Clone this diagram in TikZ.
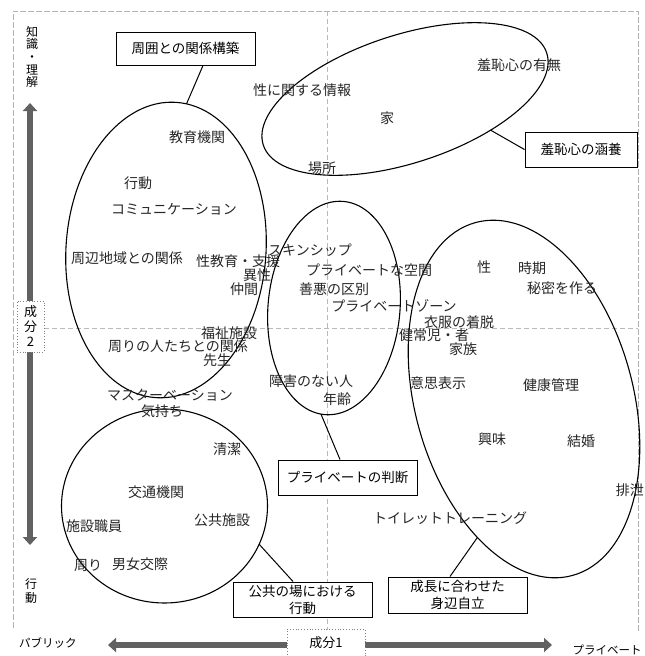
\documentclass[tikz,border=0pt]{standalone}
\usepackage{fontspec}
\setmainfont{Noto Sans CJK JP}
\usetikzlibrary{shapes.geometric,arrows.meta,calc}
\begin{document}
\begin{tikzpicture}[x=1pt,y=-1pt,
  ell/.style={ellipse,draw=black,line width=1.1pt,inner sep=0pt,outer sep=0pt},
  word/.style={font=\fontsize{14}{15}\selectfont,text=black!85,inner sep=0pt},
  lbox/.style={draw=black,line width=1pt,fill=white,font=\fontsize{13.5}{17}\selectfont,align=center,inner sep=0pt},
  conn/.style={line width=1pt},
  framel/.style={gray!60,line width=0.6pt,dash pattern=on 6pt off 2pt},
  axl/.style={gray!55,line width=0.6pt,dash pattern=on 5pt off 3pt},
  bigarrow/.style={line width=6pt,draw=black!62,
     {Triangle[length=8pt,width=14pt]}-{Triangle[length=8pt,width=14pt]}},
  axbox/.style={draw=gray,dotted,line width=0.8pt,fill=white,inner sep=0pt,align=center},
  axtext/.style={font=\fontsize{11.5}{13}\selectfont,inner sep=0pt,align=center}
  ]
\useasboundingbox (0,0) rectangle (645,656);

% frame and axes
\draw[framel] (13,628) -- (13,11) -- (638,11) -- (638,633);
\draw[axl] (327,11) -- (327,630);
\draw[axl] (44,328) -- (638,328);

% axis arrows
\draw[bigarrow] (30,545) -- (30,103);
\draw[bigarrow] (108,645) -- (552,645);
\node[axbox,minimum width=27pt,minimum height=51pt,font=\fontsize{13}{15}\selectfont] (ax2) at (30.5,326.5) {成\\分\\2};
\node[axbox,minimum width=78pt,minimum height=27pt,font=\fontsize{13}{15}\selectfont] (ax1) at (326,643) {成分1};
\node[axtext,font=\fontsize{12}{12.6}\selectfont] (know) at (32,57) {知\\識\\・\\理\\解};
\node[axtext,font=\fontsize{12}{13.5}\selectfont] (act) at (31,591) {行\\動};
\node[axtext] (pub) at (48,643) {パブリック};
\node[axtext] (pri) at (607,650) {プライベート};

% ellipses
\node[ell,minimum width=200pt,minimum height=296pt,rotate=-4] (E1) at (166,250) {};
\node[ell,minimum width=298pt,minimum height=128pt,rotate=18] (E2) at (405,99) {};
\node[ell,minimum width=132pt,minimum height=214pt,rotate=-5] (E3) at (334,308) {};
\node[ell,minimum width=206pt,minimum height=194pt] (E4) at (164.5,506) {};
\node[ell,minimum width=218pt,minimum height=366pt,rotate=15.4] (E5) at (524,399) {};

% words
\node[word] (w1) at (302,90) {性に関する情報};
\node[word] (w2) at (197,137) {教育機関};
\node[word] (w3) at (138,183) {行動};
\node[word] (w4) at (174,209) {コミュニケーション};
\node[word] (w5) at (519,65) {羞恥心の有無};
\node[word] (w6) at (387,118) {家};
\node[word] (w7) at (322,168) {場所};
\node[word] (w8) at (127,258) {周辺地域との関係};
\node[word] (w9) at (238,261) {性教育・支援};
\node[word] (w10) at (257,275) {異性};
\node[word] (w11) at (244,289) {仲間};
\node[word] (w12) at (310,250) {スキンシップ};
\node[word] (w13) at (369,270) {プライベートな空間};
\node[word] (w14) at (334,289) {善悪の区別};
\node[word] (w15) at (394,306) {プライベートゾーン};
\node[word] (w16) at (459,322) {衣服の着脱};
\node[word] (w17) at (434,335) {健常児・者};
\node[word] (w18) at (463,349) {家族};
\node[word] (w19) at (484,267) {性};
\node[word] (w20) at (532,268) {時期};
\node[word] (w21) at (562,288) {秘密を作る};
\node[word] (w22) at (229,333) {福祉施設};
\node[word] (w23) at (178,346) {周りの人たちとの関係};
\node[word] (w24) at (217,360) {先生};
\node[word] (w25) at (311,381) {障害のない人};
\node[word] (w26) at (337,399) {年齢};
\node[word] (w27) at (170,395) {マスターベーション};
\node[word] (w28) at (162,411) {気持ち};
\node[word] (w29) at (438,383) {意思表示};
\node[word] (w30) at (551,385) {健康管理};
\node[word] (w31) at (492,439) {興味};
\node[word] (w32) at (581,441) {結婚};
\node[word,anchor=east] (w33) at (644,490) {排泄};
\node[word] (w34) at (450,518) {トイレットトレーニング};
\node[word] (w35) at (227,449) {清潔};
\node[word] (w36) at (156,492) {交通機関};
\node[word] (w37) at (94,526) {施設職員};
\node[word] (w38) at (222,520) {公共施設};
\node[word] (w39) at (88,566) {周り};
\node[word] (w40) at (140,564) {男女交際};

% label boxes
\node[lbox,minimum width=139pt,minimum height=33pt] (B1) at (185.5,48.5) {周囲との関係構築};
\node[lbox,minimum width=112pt,minimum height=35pt] (B2) at (581,149.5) {羞恥心の涵養};
\node[lbox,minimum width=139pt,minimum height=35pt] (B3) at (347.5,477.5) {プライベートの判断};
\node[lbox,minimum width=139pt,minimum height=35pt] (B4) at (302.5,599.5) {公共の場における\\行動};
\node[lbox,minimum width=139pt,minimum height=36pt] (B5) at (457.5,595) {成長に合わせた\\身辺自立};

% connectors
\draw[conn] (E1.86) -- ([xshift=17.5pt]B1.south);
\draw[conn] (E2.-38) -- (B2.west);
\draw[conn] (E3.-92) -- ([xshift=-7.5pt]B3.north);
\draw[conn] (E4.-22) -- ([xshift=-9.5pt]B4.north);
\draw[conn] (E5.-124) -- ([xshift=-7.5pt]B5.north);
\end{tikzpicture}
\end{document}
